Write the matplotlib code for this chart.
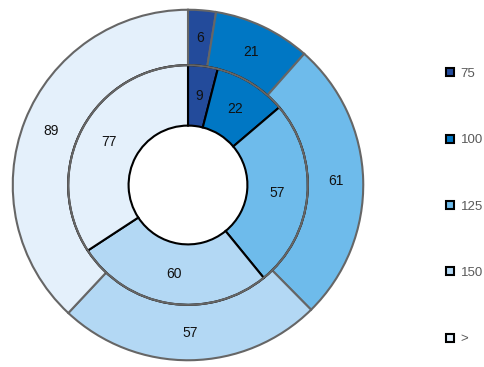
import numpy as np
import matplotlib.pyplot as plt
from matplotlib.lines import Line2D

plt.rcParams['font.family'] = ['Liberation Sans', 'DejaVu Sans']

categories = ["75", "100", "125", "150", ">"]
outer_values = [6, 21, 61, 57, 89]
inner_values = [9, 22, 57, 60, 77]
colors = ["#234b9b", "#0077c4", "#6ebbeb", "#b3d8f4", "#e4f0fb"]

W, H = 485, 367
fig = plt.figure(figsize=(W / 100, H / 100), dpi=100)
cx, cy, r = 188, 185, 177
ax = fig.add_axes([(cx - r) / W, (H - cy - r) / H, 2 * r / W, 2 * r / H])
ax.set_aspect("equal")

r_mid = 121 / r
r_hole = 60 / r

ax.pie(outer_values, radius=1.0, colors=colors, startangle=90, counterclock=False,
       wedgeprops=dict(width=1.0 - r_mid, edgecolor="#666666", linewidth=1.5),
       labels=[str(v) for v in outer_values], labeldistance=(1.0 + r_mid) / 2,
       textprops=dict(fontsize=10, color="#111111", ha="center", va="center"))

wedges, _ = ax.pie(inner_values, radius=r_mid, colors=colors, startangle=90, counterclock=False,
                   wedgeprops=dict(width=r_mid - r_hole, edgecolor="black", linewidth=1.5))
for w, v in zip(wedges, inner_values):
    ang = np.deg2rad((w.theta1 + w.theta2) / 2)
    rr = (r_mid + r_hole) / 2
    ax.text(rr * np.cos(ang), rr * np.sin(ang), str(v), fontsize=10, color="#111111",
            ha="center", va="center")
# gray outer arc on inner ring
ax.add_patch(plt.Circle((0, 0), r_mid, fill=False, edgecolor="#666666", linewidth=1.5))
ax.set_xlim(-1.01, 1.01)
ax.set_ylim(-1.01, 1.01)
ax.axis("off")

handles = [Line2D([], [], marker="s", linestyle="none", markersize=6,
                  markerfacecolor=c, markeredgecolor="black", markeredgewidth=1.5)
           for c in colors]
leg = fig.legend(handles, categories, loc="upper left", bbox_to_anchor=(433 / W, 1 - 56 / H),
                 frameon=False, labelspacing=4.1, handlelength=0.8, handletextpad=0.4,
                 fontsize=9.5, labelcolor="#595959")

fig.savefig("out.png", dpi=100)
